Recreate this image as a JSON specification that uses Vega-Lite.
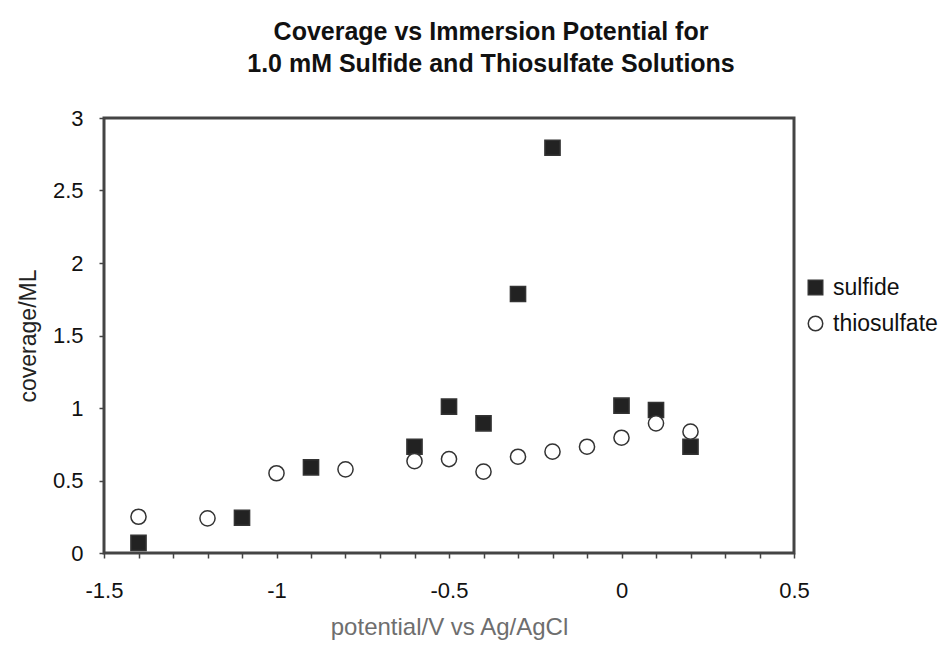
{
  "$schema": "https://vega.github.io/schema/vega-lite/v6.json",
  "width": 690,
  "height": 435,
  "autosize": {"type": "none"},
  "padding": {"left": 104, "top": 118, "right": 154, "bottom": 96},
  "background": "white",
  "config": {
    "font": "Liberation Sans",
    "view": {"stroke": "#444", "strokeWidth": 3},
    "axis": {"grid": false, "domain": false, "labelFlush": false, "tickColor": "#444", "tickWidth": 1.5, "tickSize": 5, "labelColor": "#111", "labelFontSize": 22, "labelFont": "Liberation Sans", "titleFont": "Liberation Sans", "titleFontWeight": "normal"}
  },
  "title": {
    "text": ["Coverage vs Immersion Potential for", "1.0 mM Sulfide and Thiosulfate Solutions"],
    "font": "Liberation Sans",
    "fontSize": 25,
    "fontWeight": "bold",
    "color": "#111",
    "lineHeight": 32,
    "anchor": "middle",
    "dx": 42,
    "offset": 30
  },
  "data": {
    "values": [
      {"potential": -1.4, "coverage": 0.07, "series": "sulfide"},
      {"potential": -1.1, "coverage": 0.243, "series": "sulfide"},
      {"potential": -0.9, "coverage": 0.59, "series": "sulfide"},
      {"potential": -0.6, "coverage": 0.733, "series": "sulfide"},
      {"potential": -0.5, "coverage": 1.01, "series": "sulfide"},
      {"potential": -0.4, "coverage": 0.894, "series": "sulfide"},
      {"potential": -0.3, "coverage": 1.786, "series": "sulfide"},
      {"potential": -0.2, "coverage": 2.795, "series": "sulfide"},
      {"potential": 0.0, "coverage": 1.016, "series": "sulfide"},
      {"potential": 0.1, "coverage": 0.986, "series": "sulfide"},
      {"potential": 0.2, "coverage": 0.733, "series": "sulfide"},
      {"potential": -1.4, "coverage": 0.25, "series": "thiosulfate"},
      {"potential": -1.2, "coverage": 0.239, "series": "thiosulfate"},
      {"potential": -1.0, "coverage": 0.55, "series": "thiosulfate"},
      {"potential": -0.8, "coverage": 0.577, "series": "thiosulfate"},
      {"potential": -0.6, "coverage": 0.634, "series": "thiosulfate"},
      {"potential": -0.5, "coverage": 0.648, "series": "thiosulfate"},
      {"potential": -0.4, "coverage": 0.561, "series": "thiosulfate"},
      {"potential": -0.3, "coverage": 0.664, "series": "thiosulfate"},
      {"potential": -0.2, "coverage": 0.699, "series": "thiosulfate"},
      {"potential": -0.1, "coverage": 0.733, "series": "thiosulfate"},
      {"potential": 0.0, "coverage": 0.795, "series": "thiosulfate"},
      {"potential": 0.1, "coverage": 0.894, "series": "thiosulfate"},
      {"potential": 0.2, "coverage": 0.837, "series": "thiosulfate"}
    ]
  },
  "mark": {"type": "point", "filled": true, "stroke": "#333", "strokeWidth": 1.5, "opacity": 1, "size": 230},
  "encoding": {
    "x": {
      "field": "potential",
      "type": "quantitative",
      "scale": {"domain": [-1.5, 0.5], "nice": false, "zero": false},
      "axis": {
        "title": "potential/V vs Ag/AgCl",
        "titleColor": "#6e6e6e",
        "titleFontSize": 24,
        "titlePadding": 14,
        "labelPadding": 22,
        "labelOverlap": false,
        "values": [-1.5, -1.4, -1.3, -1.2, -1.1, -1, -0.9, -0.8, -0.7, -0.6, -0.5, -0.4, -0.3, -0.2, -0.1, 0, 0.1, 0.2, 0.3, 0.4, 0.5],
        "labelExpr": "indexof(['-1.5','-1','-0.5','0','0.5'], '' + datum.value) >= 0 ? '' + datum.value : ''"
      }
    },
    "y": {
      "field": "coverage",
      "type": "quantitative",
      "scale": {"domain": [0, 3], "nice": false},
      "axis": {
        "title": "coverage/ML",
        "titleColor": "#222",
        "titleFontSize": 23,
        "titlePadding": 12,
        "labelPadding": 16,
        "values": [0, 0.5, 1, 1.5, 2, 2.5, 3],
        "labelExpr": "'' + datum.value"
      }
    },
    "shape": {
      "field": "series",
      "type": "nominal",
      "scale": {"domain": ["sulfide", "thiosulfate"], "range": ["square", "circle"]},
      "legend": {"title": null, "orient": "none", "legendX": 700, "legendY": 158, "labelFontSize": 23, "labelColor": "#111", "symbolSize": 210, "symbolStrokeWidth": 1.5, "rowPadding": 12, "labelOffset": 6,
        "encode": {"symbols": {"update": {"stroke": {"value": "#222"}, "strokeWidth": {"value": 1.5}}}}}
    },
    "fill": {
      "field": "series",
      "type": "nominal",
      "scale": {"domain": ["sulfide", "thiosulfate"], "range": ["#222", "#ffffff"]},
      "legend": {"title": null, "orient": "none", "legendX": 700, "legendY": 158, "labelFontSize": 23, "labelColor": "#111", "symbolSize": 210, "symbolStrokeWidth": 1.5, "rowPadding": 12, "labelOffset": 6,
        "encode": {"symbols": {"update": {"stroke": {"value": "#222"}, "strokeWidth": {"value": 1.5}}}}}
    }
  }
}
